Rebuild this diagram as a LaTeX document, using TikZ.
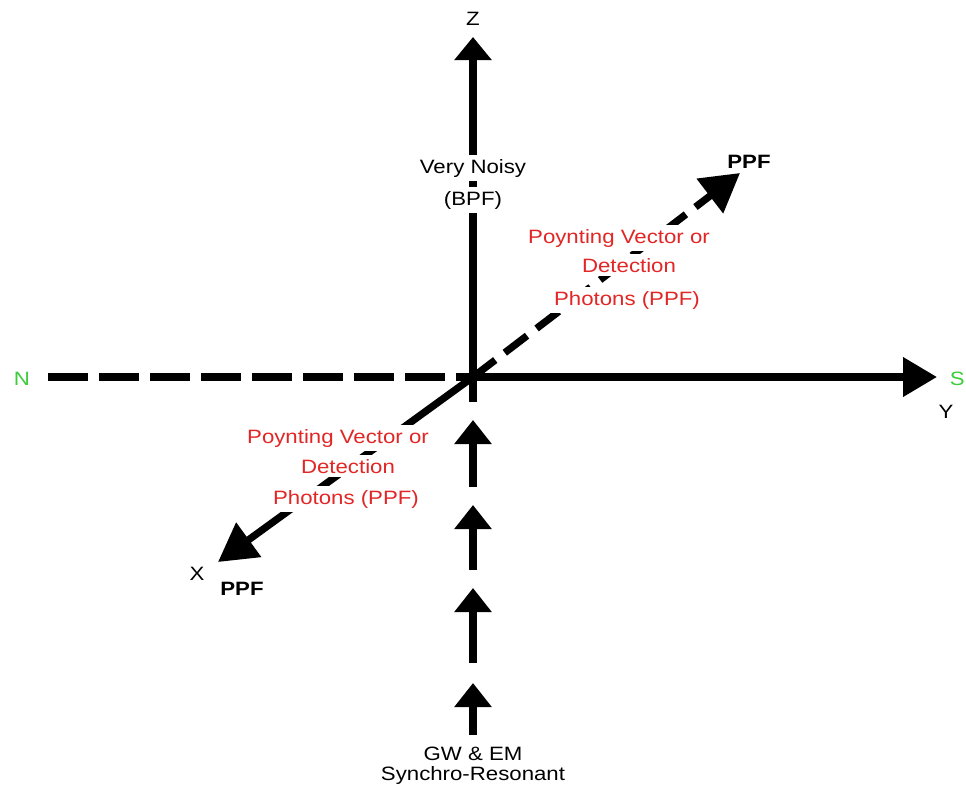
\documentclass[tikz,border=0pt]{standalone}
\usepackage{fontspec}
\setmainfont{Liberation Sans}
\usetikzlibrary{arrows.meta, positioning, calc}
\definecolor{ptred}{RGB}{226,38,38}
\definecolor{nsgreen}{RGB}{60,205,60}
\newcommand{\wide}[1]{\scalebox{1.15}[1]{#1}}

\begin{document}
\begin{tikzpicture}[x=0.02cm,y=-0.02cm,
  lbl/.style={font=\fontsize{11}{11.4}\selectfont, inner sep=2pt, anchor=base},
  redlbl/.style={lbl, text=ptred, fill=white},
  ax/.style={line width=1.45mm}]
\useasboundingbox (0,0) rectangle (966,785);
\coordinate (O) at (473,377);
\coordinate (Zfoot) at (473,402);
\coordinate (Ztip) at (473,37);
\coordinate (Ytip) at (937,377);
\coordinate (Nend) at (48,377);
\coordinate (Xtip) at (218,562);
\coordinate (Ptip) at (740,173);

\draw[ax,-{Triangle[length=4.6mm,width=7.2mm]}] (Zfoot) -- (Ztip);
\draw[ax,-{Triangle[length=6.8mm,width=7.6mm]}] (O) -- (Ytip);
\draw[ax,dash pattern=on 8mm off 2.2mm] (Nend) -- (O);
\draw[ax,-{Triangle[length=7.6mm,width=8.2mm]}] (O) -- (Xtip);
\draw[ax,dash pattern=on 5.6mm off 2.4mm,-{Triangle[length=7.6mm,width=8.4mm]}] (O) -- (Ptip);
\foreach \b/\t [count=\i] in {487/420,570/505,663/588,735/683}{
  \coordinate (foot\i) at (473,\b);
  \coordinate (head\i) at (473,\t);
  \draw[ax,-{Triangle[length=4.8mm,width=7.2mm]}] (foot\i) -- (head\i);
}

\node[lbl] (zlbl) at (473,25) {\wide{Z}};
\node[lbl] (ylbl) at (946,418) {\wide{Y}};
\node[lbl] (xlbl) at (197,580) {\wide{X}};
\node[lbl,text=nsgreen] (nlbl) at (22,385) {\wide{N}};
\node[lbl,text=nsgreen,anchor=base east,inner sep=0pt] (slbl) at (965,385) {\wide{S}};
\node[lbl,fill=white] (noisy) at (473,173) {\wide{Very Noisy}};
\node[lbl,fill=white] (bpf) at (473,205) {\wide{(BPF)}};
\node[lbl,font=\fontsize{11}{11.4}\selectfont\bfseries] (ppfup) at (749,168) {\wide{PPF}};
\node[lbl,font=\fontsize{11}{11.4}\selectfont\bfseries] (ppflow) at (242,595) {\wide{PPF}};

\node[redlbl] (pvup) at (619,243) {\wide{Poynting Vector or}};
\node[redlbl] (detup) at (629,272) {\wide{Detection}};
\node[redlbl] (phup) at (627,305) {\wide{Photons (PPF)}};
\node[redlbl] (pvlow) at (338,443) {\wide{Poynting Vector or}};
\node[redlbl] (detlow) at (348,473) {\wide{Detection}};
\node[redlbl] (phlow) at (346,504) {\wide{Photons (PPF)}};

\node[lbl] (gw) at (473,760) {\wide{GW \& EM}};
\node[lbl] (synchro) at (473,780) {\wide{Synchro-Resonant}};
\end{tikzpicture}
\end{document}
